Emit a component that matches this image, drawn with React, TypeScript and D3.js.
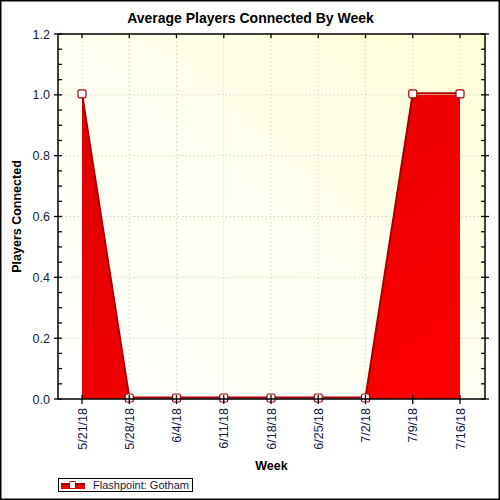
import React from 'react';
import * as d3 from 'd3';

const weeks = ['5/21/18', '5/28/18', '6/4/18', '6/11/18', '6/18/18', '6/25/18', '7/2/18', '7/9/18', '7/16/18'];
const players = [1, 0, 0, 0, 0, 0, 0, 1, 1];
const yTicks = [0, 0.2, 0.4, 0.6, 0.8, 1.0, 1.2];
const seriesName = 'Flashpoint: Gotham';

const W = 500;
const H = 500;
const plot = { left: 58, right: 485, top: 34, bottom: 399 };
const font = '"Liberation Sans", Arial, sans-serif';
const labelColor = '#141a44';

export default function App() {
  const x = d3.scalePoint<string>()
    .domain(weeks)
    .range([82, 460]);
  const y = d3.scaleLinear()
    .domain([0, 1.2])
    .range([plot.bottom, plot.top]);

  const minorTicks = d3.range(0, 1.2001, 0.05);

  const area = d3.area<number>()
    .x((d, i) => x(weeks[i]) as number)
    .y0(y(0))
    .y1(d => y(d));
  const line = d3.line<number>()
    .x((d, i) => x(weeks[i]) as number)
    .y(d => y(d) - 1.5);

  return (
    <svg width={W} height={H} style={{ position: 'absolute', left: 0, top: 0 }}>
      <defs>
        <linearGradient id="bg" x1="0" y1="1" x2="1" y2="0">
          <stop offset="0" stopColor="#ffffff" />
          <stop offset="0.45" stopColor="#fffff2" />
          <stop offset="1" stopColor="#ffffd6" />
        </linearGradient>
        <linearGradient id="fill" x1="0" y1="0" x2="1" y2="1">
          <stop offset="0" stopColor="#dd0000" />
          <stop offset="1" stopColor="#ff0000" />
        </linearGradient>
      </defs>
      <rect x={0.75} y={0.75} width={W - 1.5} height={H - 1.5} fill="#fff" stroke="#000" strokeWidth={1.5} />

      {/* title */}
      <text x={(plot.left + plot.right) / 2 - 21} y={23} textAnchor="middle" fontFamily={font} fontWeight="bold" fontSize={14}>
        Average Players Connected By Week
      </text>

      {/* plot background */}
      <rect x={plot.left} y={plot.top} width={plot.right - plot.left} height={plot.bottom - plot.top} fill="url(#bg)" />

      {/* grid */}
      {weeks.map(w => (
        <line key={'gx' + w} x1={x(w)} x2={x(w)} y1={plot.top} y2={plot.bottom}
          stroke="#c8c8c8" strokeWidth={1} strokeDasharray="1,3" />
      ))}
      {yTicks.map(t => (
        <line key={'gy' + t} x1={plot.left} x2={plot.right} y1={y(t)} y2={y(t)}
          stroke="#c8c8c8" strokeWidth={1} strokeDasharray="1,3" />
      ))}

      {/* series */}
      <path d={area(players) ?? ''} fill="url(#fill)" />
      <path d={line(players) ?? ''} fill="none" stroke="#a80000" strokeWidth={2} />
      {players.map((v, i) => (
        <rect key={'m' + i} x={(x(weeks[i]) as number) - 4} y={y(v) - 5} width={8} height={8} rx={1.5}
          fill="#fff" stroke="#a80000" strokeWidth={1.2} />
      ))}

      {/* frame */}
      <rect x={plot.left} y={plot.top} width={plot.right - plot.left} height={plot.bottom - plot.top} fill="none" stroke="#000" strokeWidth={1.5} />

      {/* y ticks */}
      {minorTicks.map((t, i) => {
        const major = i % 4 === 0;
        return (
          <g key={'yt' + i}>
            <line x1={plot.left - (major ? 4 : 0)} x2={plot.left + 4} y1={y(t)} y2={y(t)} stroke="#000" strokeWidth={1.3} />
            <line x1={plot.right - 4} x2={plot.right + (major ? 4 : 0)} y1={y(t)} y2={y(t)} stroke="#000" strokeWidth={1.3} />
          </g>
        );
      })}
      {yTicks.map(t => (
        <text key={'yl' + t} x={plot.left - 8} y={y(t) + 4.5} textAnchor="end" fontFamily={font} fontSize={12.5} fill={labelColor}>
          {d3.format('.1f')(t)}
        </text>
      ))}

      {/* x ticks */}
      {weeks.map(w => (
        <g key={'xt' + w}>
          <line x1={x(w)} x2={x(w)} y1={plot.bottom - 4} y2={plot.bottom + 5} stroke="#000" strokeWidth={1.3} />
          <line x1={x(w)} x2={x(w)} y1={plot.top} y2={plot.top + 4} stroke="#000" strokeWidth={1.3} />
          <text transform={`translate(${(x(w) as number) + 4.5},${plot.bottom + 9}) rotate(-90)`} textAnchor="end"
            fontFamily={font} fontSize={12.5} fill={labelColor}>
            {w}
          </text>
        </g>
      ))}

      {/* axis titles */}
      <text x={(plot.left + plot.right) / 2} y={470} textAnchor="middle" fontFamily={font} fontWeight="bold" fontSize={12.5}>
        Week
      </text>
      <text transform={`translate(21,${(plot.top + plot.bottom) / 2}) rotate(-90)`} textAnchor="middle"
        fontFamily={font} fontWeight="bold" fontSize={12.5}>
        Players Connected
      </text>

      {/* legend */}
      <rect x={58.5} y={478.5} width={134} height={13} fill="#fff" stroke="#000" strokeWidth={1} />
      <rect x={61} y={483} width={24} height={6} fill="#ee0000" />
      <line x1={61} x2={85} y1={484} y2={484} stroke="#a80000" strokeWidth={2} />
      <rect x={69.5} y={481.5} width={6} height={7} rx={1} fill="#fff" stroke="#a80000" strokeWidth={1} />
      <text x={93} y={489} fontFamily={font} fontSize={11} fill={labelColor}>{seriesName}</text>
    </svg>
  );
}
